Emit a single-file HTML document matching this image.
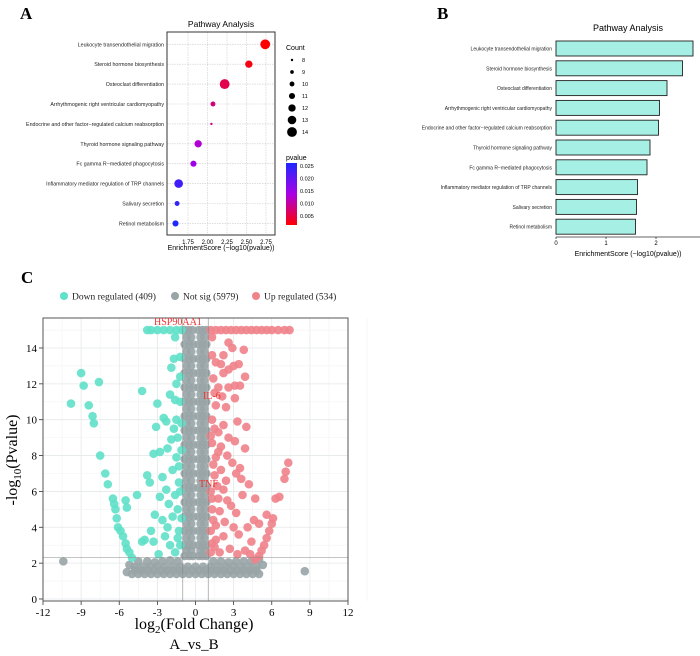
<!DOCTYPE html>
<html><head><meta charset="utf-8"><style>
html,body{margin:0;padding:0;background:#fff;}
svg{display:block;}
.sans{font-family:"Liberation Sans",sans-serif;}
.serif{font-family:"Liberation Serif",serif;}
</style></head><body>
<svg id="fig" width="700" height="656" viewBox="0 0 700 656" xmlns="http://www.w3.org/2000/svg">
<text x="20" y="19" class="serif" font-size="17" font-weight="bold">A</text>
<text x="437" y="19" class="serif" font-size="17" font-weight="bold">B</text>
<text x="21" y="283" class="serif" font-size="17" font-weight="bold">C</text>
<g id="pa"></g>
<g id="pb"></g>
<g id="pc"></g>
<text x="194" y="629" text-anchor="middle" font-family="Liberation Serif, serif" font-size="16">log<tspan font-size="11" dy="4">2</tspan><tspan dy="-4">(Fold Change)</tspan></text>
<text x="194" y="649" text-anchor="middle" font-family="Liberation Serif, serif" font-size="15">A_vs_B</text>
<text transform="translate(17,460) rotate(-90)" text-anchor="middle" font-family="Liberation Serif, serif" font-size="16">-log<tspan font-size="11" dy="4">10</tspan><tspan dy="-4">(Pvalue)</tspan></text>
</svg>
<script>
const pathways=["Leukocyte transendothelial migration","Steroid hormone biosynthesis","Osteoclast differentiation","Arrhythmogenic right ventricular cardiomyopathy","Endocrine and other factor\u2212regulated calcium reabsorption","Thyroid hormone signaling pathway","Fc gamma R\u2212mediated phagocytosis","Inflammatory mediator regulation of TRP channels","Salivary secretion","Retinol metabolism"];
const enrich=[2.74,2.53,2.22,2.07,2.05,1.88,1.82,1.63,1.61,1.59];
const counts=[14,12,14,10,8,12,11,13,10,11];
const pvals=[0.0018,0.003,0.006,0.0085,0.009,0.013,0.015,0.023,0.0245,0.026];
const aTicks=[1.75,2.00,2.25,2.50,2.75];
const countLegend=[8,9,10,11,12,13,14];
const pLegend=[0.025,0.020,0.015,0.010,0.005];
const bTicks=[0,1,2];
const downPts=[[-9.8,10.9],[-9,12.6],[-8.8,11.9],[-8.4,10.8],[-8.1,10.2],[-8,9.8],[-7.6,12.1],[-7.5,8],[-7.1,7],[-6.9,6.4],[-6.5,5.6],[-6.4,5.3],[-6.3,5],[-6.2,4.5],[-6.1,4],[-5.9,3.8],[-5.7,3.5],[-5.5,3.1],[-5.4,2.8],[-5.2,2.6],[-5,2.3],[-5.5,5.5],[-5.4,5.1],[-4.6,5.8],[-4.2,11.6],[-4,3.3],[-4.2,3.2],[-3.8,6.9],[-3.6,6.5],[-3.5,3.8],[-3.3,3.2],[-3.2,4.7],[-3.1,9.6],[-3,10.9],[-3.3,8.1],[-2.8,8.2],[-2.6,6.8],[-2.5,10.1],[-2.3,9.9],[-2.2,8.4],[-2,11.4],[-1.9,12.9],[-1.7,13.4],[-1.6,11.1],[-1.5,10],[-1.4,9],[-1.3,7.4],[-1.2,13.5],[-2.8,5.7],[-2.6,4.4],[-2.4,3.5],[-2,3],[-1.8,4.6],[-1.6,2.6],[-1.4,5],[-1.3,3.8],[-1.2,6],[-1.1,8.3],[-2.9,2.5],[-1.8,7.2],[-1.5,12],[-1.2,11],[-1.1,9.8],[-1.3,6.5],[-1.1,4.5],[-1.2,3],[-2.1,5.3],[-2.3,6.1],[-1.9,8.9],[-1.2,12.4],[-1.5,7.9],[-1.6,5.8],[-1.4,3.4],[-2.2,4],[-1.7,9.5],[-3.8,15],[-3.5,15],[-3,15],[-2.5,15],[-2,15],[-1.5,15],[-1.1,15],[-1.6,14.6]];
const upPts=[[1.2,15],[1.6,15],[2,15],[2.4,15],[2.8,15],[3.2,15],[3.6,15],[4,15],[4.4,15],[4.8,15],[5.2,15],[5.6,15],[6,15],[6.5,15],[7,15],[7.4,15],[1.3,14.6],[2.6,14.3],[2.9,14],[3.8,13.9],[2.2,13.6],[2,13.1],[1.6,13.2],[3.4,13.1],[3,13],[2.6,12.8],[3.9,12.4],[1.4,12.3],[2.2,12.6],[3.5,11.9],[2.6,11.8],[1.8,11.8],[3.1,11.9],[2.1,11.3],[3.1,11.2],[1.6,10.8],[2.4,10.7],[1.5,9.5],[2.2,9.7],[3.3,9.9],[4,9.6],[1.8,9.3],[2.6,9],[3.1,8.8],[1.3,8.7],[2,8.5],[3.9,8.4],[1.6,7.9],[2.5,8],[2.9,7.6],[3.5,7.3],[3.2,7],[1.5,6.9],[2.4,6.6],[3.6,6.7],[4.2,6.4],[2.2,6.1],[3.7,5.8],[4.7,5.6],[6.3,5.6],[6.6,5.7],[1.8,5.6],[2.8,5.2],[3.2,4.8],[1.4,4.4],[2.3,4.3],[3,4],[4.1,4],[4.6,4.4],[5,4.2],[5.6,4.7],[6.1,4.5],[6,4.2],[5.8,3.8],[5.6,3.4],[5.4,3],[5.2,2.7],[5,2.4],[4.7,2.2],[1.6,3.3],[2.2,3.5],[3.4,3.6],[4.4,3.2],[3.9,2.7],[2.7,2.8],[1.9,2.6],[3.3,2.5],[4.3,2.5],[7,6.7],[7.1,7.1],[7.3,7.6],[1.2,6],[1.3,5],[1.2,3.8],[1.2,2.6],[1.5,11.5],[1.3,10],[1.4,7.5],[1.7,6.3],[1.9,4.9],[1.3,3.1],[2.5,5.5],[2,7.2],[1.3,13.6],[1.2,9.1],[1.3,5.6],[1.6,4.1],[1.5,2.9],[1.8,8.2]];
const grayPts=[[-10.4,2.1],[8.6,1.55],
[-0.85,15],[-0.55,15],[-0.25,15],[0.25,15],[0.55,15],[0.85,15],
[-0.85,14.2],[-0.5,14.2],[-0.2,14.2],[0.25,14.2],[0.55,14.2],[0.85,14.2],
[-0.85,13.4],[-0.5,13.4],[-0.2,13.4],[0.25,13.4],[0.55,13.4],[0.85,13.4],
[-0.85,12.6],[-0.5,12.6],[-0.2,12.6],[0.25,12.6],[0.55,12.6],[0.85,12.6],
[-0.85,11.8],[-0.5,11.8],[-0.2,11.8],[0.25,11.8],[0.55,11.8],[0.85,11.8],
[-0.85,11],[-0.5,11],[-0.2,11],[0.25,11],[0.55,11],[0.85,11],
[-0.85,10.2],[-0.5,10.2],[-0.2,10.2],[0.25,10.2],[0.55,10.2],[0.85,10.2],
[-0.85,9.4],[-0.5,9.4],[-0.2,9.4],[0.25,9.4],[0.55,9.4],[0.85,9.4],
[-0.85,8.6],[-0.5,8.6],[-0.2,8.6],[0.25,8.6],[0.55,8.6],[0.85,8.6],
[-0.85,7.8],[-0.5,7.8],[-0.2,7.8],[0.25,7.8],[0.55,7.8],[0.85,7.8],
[-0.85,7],[-0.5,7],[-0.2,7],[0.25,7],[0.55,7],[0.85,7],
[-0.85,6.2],[-0.5,6.2],[-0.2,6.2],[0.25,6.2],[0.55,6.2],[0.85,6.2],
[-0.85,5.4],[-0.5,5.4],[-0.2,5.4],[0.25,5.4],[0.55,5.4],[0.85,5.4],
[-0.85,4.6],[-0.5,4.6],[-0.2,4.6],[0.25,4.6],[0.55,4.6],[0.85,4.6],
[-0.85,3.8],[-0.5,3.8],[-0.2,3.8],[0.25,3.8],[0.55,3.8],[0.85,3.8],
[-0.85,3],[-0.5,3],[-0.2,3],[0.25,3],[0.55,3],[0.85,3],
[-0.85,2.4],[-0.5,2.4],[-0.2,2.4],[0.25,2.4],[0.55,2.4],[0.85,2.4],
[-0.7,14.6],[-0.35,14.6],[0.4,14.6],[0.7,14.6],[-0.7,13.8],[-0.35,13.8],[0.4,13.8],[0.7,13.8],
[-0.7,13],[-0.35,13],[0.4,13],[0.7,13],[-0.7,12.2],[-0.35,12.2],[0.4,12.2],[0.7,12.2],
[-0.7,11.4],[-0.35,11.4],[0.4,11.4],[0.7,11.4],[-0.7,10.6],[-0.35,10.6],[0.4,10.6],[0.7,10.6],
[-0.7,9.8],[-0.35,9.8],[0.4,9.8],[0.7,9.8],[-0.7,9],[-0.35,9],[0.4,9],[0.7,9],
[-0.7,8.2],[-0.35,8.2],[0.4,8.2],[0.7,8.2],[-0.7,7.4],[-0.35,7.4],[0.4,7.4],[0.7,7.4],
[-0.7,6.6],[-0.35,6.6],[0.4,6.6],[0.7,6.6],[-0.7,5.8],[-0.35,5.8],[0.4,5.8],[0.7,5.8],
[-0.7,5],[-0.35,5],[0.4,5],[0.7,5],[-0.7,4.2],[-0.35,4.2],[0.4,4.2],[0.7,4.2],
[-0.7,3.4],[-0.35,3.4],[0.4,3.4],[0.7,3.4],[-0.7,2.7],[-0.35,2.7],[0.4,2.7],[0.7,2.7],
[-5,1.4],[-4.5,1.4],[-4,1.4],[-3.5,1.4],[-3,1.4],[-2.5,1.4],[-2,1.4],[-1.5,1.4],[-1,1.4],[-0.5,1.4],[0,1.4],[0.5,1.4],[1,1.4],[1.5,1.4],[2,1.4],[2.5,1.4],[3,1.4],[3.5,1.4],[4,1.4],[4.5,1.4],[5,1.4],
[-4.75,1.6],[-4.25,1.6],[-3.75,1.6],[-3.25,1.6],[-2.75,1.6],[-2.25,1.6],[-1.75,1.6],[-1.25,1.6],[-0.75,1.6],[-0.25,1.6],[0.25,1.6],[0.75,1.6],[1.25,1.6],[1.75,1.6],[2.25,1.6],[2.75,1.6],[3.25,1.6],[3.75,1.6],[4.25,1.6],
[-4.8,1.8],[-4.2,1.8],[-3.6,1.8],[-3,1.8],[-2.4,1.8],[-1.8,1.8],[-1.2,1.8],[-0.6,1.8],[0,1.8],[0.6,1.8],[1.2,1.8],[1.8,1.8],[2.4,1.8],[3,1.8],[3.6,1.8],[4.2,1.8],[4.8,1.8],[5.3,1.9],
[-4.5,2.1],[-3.8,2.1],[-3.2,2.05],[-2.6,2.1],[-2,2.15],[-1.4,2.1],[1.4,2.1],[2,2.1],[2.6,2.05],[3.2,2.1],[3.8,2.1],[4.4,2.1],[5,2.2],[4.8,1.6],[-5.2,1.9],[-5.4,1.5]];
const vxTicks=[-12,-9,-6,-3,0,3,6,9,12];
const vyTicks=[0,2,4,6,8,10,12,14];

const NS="http://www.w3.org/2000/svg";
function mk(tag,attrs,parent,txt){const e=document.createElementNS(NS,tag);for(const k in attrs)e.setAttribute(k,attrs[k]);if(txt!==undefined)e.textContent=txt;parent.appendChild(e);return e;}

// ---------- Panel A ----------
const pa=document.getElementById('pa');
const aL=167,aR=275,aT=32,aB=235;
const ax=v=>188+(v-1.75)*78;
const ay=i=>44.3+i*19.9;
const pcol=p=>{const t=Math.max(0,Math.min(1,(p-0.002)/(0.026-0.002)));
 let r,g,b; if(t<0.5){const u=t/0.5;r=255-u*(255-170);g=0;b=Math.round(u*230);} else {const u=(t-0.5)/0.5;r=170-u*(170-30);g=Math.round(u*40);b=230+u*25;}
 return `rgb(${Math.round(r)},${g},${Math.round(b)})`;};
const rad=c=>1.2+(c-8)*0.62;
let t=mk('text',{x:221,y:27,'text-anchor':'middle','font-size':8.5,class:'sans'},pa,'Pathway Analysis');

aTicks.forEach(v=>{const l=mk('line',{x1:ax(v),x2:ax(v),y1:aT,y2:aB,stroke:'#ccc','stroke-width':0.6,'stroke-dasharray':'1.5,1'},pa);
 
 const tx=mk('text',{x:ax(v),y:aB+9,'text-anchor':'middle','font-size':6,class:'sans'},pa,v.toFixed(2));
 });
pathways.forEach((n,i)=>{const l=mk('line',{x1:aL,x2:aR,y1:ay(i),y2:ay(i),stroke:'#ccc','stroke-width':0.6,'stroke-dasharray':'1.5,1'},pa);
 
 const tx=mk('text',{x:aL-3,y:ay(i)+2,'text-anchor':'end','font-size':5.3,class:'sans',fill:'#222'},pa,n);
 });
let box=mk('rect',{x:aL,y:aT,width:aR-aL,height:aB-aT,fill:'none',stroke:'#333','stroke-width':1},pa);

enrich.forEach((v,i)=>{const c=mk('circle',{cx:ax(v),cy:ay(i),r:rad(counts[i]),fill:pcol(pvals[i])},pa);
 });
t=mk('text',{x:286,y:50,'font-size':7,class:'sans'},pa,'Count');

countLegend.forEach((c,i)=>{const y=60+i*12;const ci=mk('circle',{cx:292,cy:y,r:rad(c),fill:'#000'},pa);
 
 const tx=mk('text',{x:302,y:y+2,'font-size':5.5,class:'sans'},pa,c);
 });
t=mk('text',{x:286,y:160,'font-size':7,class:'sans'},pa,'pvalue');

const defs=mk('defs',{},pa);const lg=mk('linearGradient',{id:'pg',x1:0,y1:0,x2:0,y2:1},defs);
mk('stop',{offset:'0',"stop-color":'rgb(30,40,255)'},lg);mk('stop',{offset:'0.5',"stop-color":'rgb(170,0,230)'},lg);mk('stop',{offset:'1',"stop-color":'rgb(255,0,0)'},lg);
let cb=mk('rect',{x:286,y:163,width:11,height:62,fill:'url(#pg)'},pa);

pLegend.forEach(p=>{const y=166+(0.025-p)/0.02*50;const tx=mk('text',{x:300,y:y+2,'font-size':5.5,class:'sans'},pa,p.toFixed(3));
 });
t=mk('text',{x:221,y:250,'text-anchor':'middle','font-size':7,class:'sans'},pa,'EnrichmentScore (\u2212log10(pvalue))');


// ---------- Panel B ----------
const pb=document.getElementById('pb');
const bx=v=>556+v*50;const by=i=>41+i*19.8;
t=mk('text',{x:628,y:31,'text-anchor':'middle','font-size':9,class:'sans'},pb,'Pathway Analysis');

pathways.forEach((n,i)=>{const r=mk('rect',{x:bx(0),y:by(i),width:bx(enrich[i])-bx(0),height:15,fill:'#a5efe4',stroke:'#222','stroke-width':0.9},pb);
 
 const tx=mk('text',{x:552,y:by(i)+9.5,'text-anchor':'end','font-size':5,class:'sans',fill:'#222'},pb,n);
 });
let axl=mk('line',{x1:556,x2:700,y1:237,y2:237,stroke:'#333','stroke-width':0.8},pb);

bTicks.forEach(v=>{mk('line',{x1:bx(v),x2:bx(v),y1:237,y2:239,stroke:'#333','stroke-width':0.8},pb);
 const tx=mk('text',{x:bx(v),y:245,'text-anchor':'middle','font-size':6,class:'sans'},pb,v);
 });
t=mk('text',{x:628,y:256,'text-anchor':'middle','font-size':7,class:'sans'},pb,'EnrichmentScore (\u2212log10(pvalue))');


// ---------- Panel C ----------
const pc=document.getElementById('pc');
const cL=43,cR=348,cT=318,cB=601;
const vx=v=>cL+(v+12)*(cR-cL)/24;
const vy=v=>599-v*17.93;
vxTicks.forEach(v=>{const l=mk('line',{x1:vx(v),x2:vx(v),y1:cT,y2:cB,stroke:'#e4e8ea','stroke-width':0.8},pc);
 
 mk('line',{x1:vx(v+1.5),x2:vx(v+1.5),y1:cT,y2:cB,stroke:'#f1f3f4','stroke-width':0.6},pc);
 mk('line',{x1:vx(v),x2:vx(v),y1:cB,y2:cB+4,stroke:'#333','stroke-width':0.8},pc);
 const tx=mk('text',{x:vx(v),y:cB+15,'text-anchor':'middle','font-size':11,class:'serif'},pc,v);
 });
vyTicks.forEach(v=>{const l=mk('line',{x1:cL,x2:cR,y1:vy(v),y2:vy(v),stroke:'#e4e8ea','stroke-width':0.8},pc);
 
 mk('line',{x1:cL,x2:cR,y1:vy(v+1),y2:vy(v+1),stroke:'#f1f3f4','stroke-width':0.6},pc);
 mk('line',{x1:cL-4,x2:cL,y1:vy(v),y2:vy(v),stroke:'#333','stroke-width':0.8},pc);
 const tx=mk('text',{x:cL-6,y:vy(v)+4,'text-anchor':'end','font-size':11,class:'serif'},pc,v);
 });
function pts(arr,col,name){arr.forEach(p=>{const c=mk('circle',{cx:vx(p[0]),cy:vy(p[1]),r:4.3,fill:col,'fill-opacity':0.9},pc);
 });}
pts(grayPts,'#98a4a6','not-sig-point');
pts(downPts,'#5fe0c8','down-regulated-point');
pts(upPts,'#f0828a','up-regulated-point');
[[-1,0],[1,0]].forEach(d=>{const l=mk('line',{x1:vx(d[0]),x2:vx(d[0]),y1:cT,y2:cB,stroke:'#888','stroke-width':0.6},pc);
 });
let hl=mk('line',{x1:cL,x2:cR,y1:vy(2.3),y2:vy(2.3),stroke:'#888','stroke-width':0.6},pc);

box=mk('rect',{x:cL,y:cT,width:cR-cL,height:cB-cT,fill:'none',stroke:'#555','stroke-width':1},pc);

[["HSP90AA1",154,325],["IL-6",203,399],["TNF",199,487]].forEach(g=>{const tx=mk('text',{x:g[1],y:g[2],'font-size':10,class:'serif',fill:'#f03030'},pc,g[0]);
 });
[["#5fe0c8",64,"Down regulated (409)"],["#98a4a6",175,"Not sig (5979)"],["#f0828a",256,"Up regulated (534)"]].forEach(e=>{
 const c=mk('circle',{cx:e[1],cy:296,r:4,fill:e[0]},pc);
 const tx=mk('text',{x:e[1]+8,y:299.5,'font-size':9.5,class:'serif',fill:'#222'},pc,e[2]);
 });
</script>
</body></html>
